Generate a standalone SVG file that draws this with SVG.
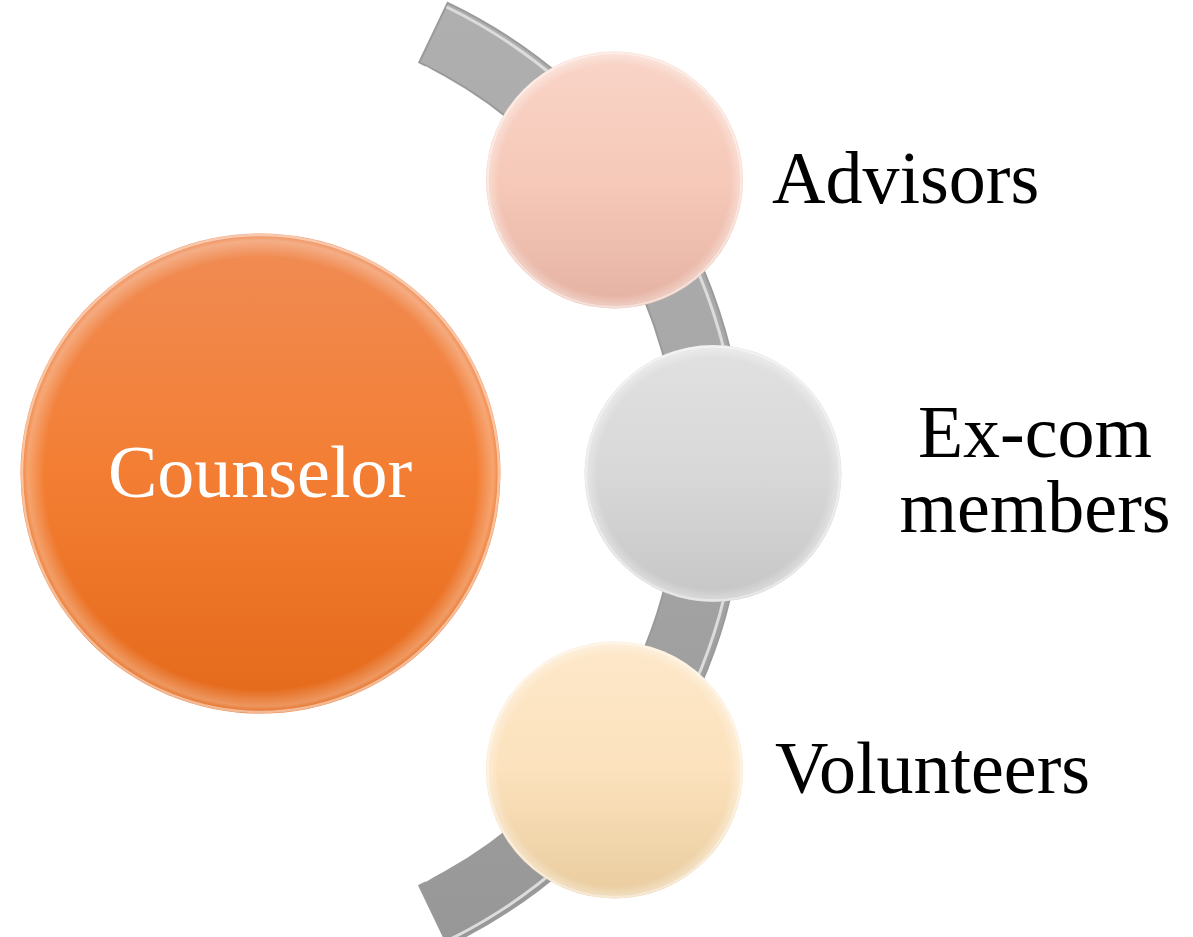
<svg xmlns="http://www.w3.org/2000/svg" width="1193" height="937" viewBox="0 0 1193 937">
<defs>
<style>
.lbl{font-family:"Liberation Serif","Times New Roman",serif;font-size:74px;fill:#000}
.lblw{font-family:"Liberation Serif","Times New Roman",serif;font-size:74px;fill:#fff}
.rim{fill:none;stroke:#fff;stroke-opacity:0.5;stroke-width:2.5}
</style>
<linearGradient id="gOrange" x1="0" y1="0" x2="0" y2="1">
<stop offset="0" stop-color="#f08c55"/><stop offset="0.5" stop-color="#f37e33"/><stop offset="1" stop-color="#e4691a"/>
</linearGradient>
<linearGradient id="gPink" x1="0" y1="0" x2="0" y2="1">
<stop offset="0" stop-color="#f9d5c8"/><stop offset="0.5" stop-color="#f6c9b9"/><stop offset="1" stop-color="#e5b2a2"/>
</linearGradient>
<linearGradient id="gGray" x1="0" y1="0" x2="0" y2="1">
<stop offset="0" stop-color="#e1e1e1"/><stop offset="0.5" stop-color="#d8d8d8"/><stop offset="1" stop-color="#c6c6c6"/>
</linearGradient>
<linearGradient id="gCream" x1="0" y1="0" x2="0" y2="1">
<stop offset="0" stop-color="#fde8ca"/><stop offset="0.5" stop-color="#fce2bd"/><stop offset="1" stop-color="#e9cc9e"/>
</linearGradient>
<linearGradient id="gBand" x1="0" y1="0" x2="0" y2="1">
<stop offset="0" stop-color="#afafaf"/><stop offset="0.5" stop-color="#a6a6a6"/><stop offset="1" stop-color="#979797"/>
</linearGradient>
<radialGradient id="gShine" cx="0.5" cy="0.5" r="0.5">
<stop offset="0.9" stop-color="#fff" stop-opacity="0"/><stop offset="0.97" stop-color="#fff" stop-opacity="0.3"/><stop offset="1" stop-color="#fff" stop-opacity="0"/>
</radialGradient>
</defs>
<rect width="1193" height="937" fill="#fff"/>
<g id="connectors">
<path d="M 447.7 2.8 A 522 522 0 0 1 447.7 945.2 L 419.3 885.6 A 456 456 0 0 0 419.3 62.4 Z" fill="url(#gBand)" stroke="#9a9a9a" stroke-width="2"/>
<path d="M 423.5 70 A 465 465 0 0 1 423.5 878" fill="none" stroke="#ffffff" stroke-width="9"/>
<path d="M 446.5 7 A 519 519 0 0 1 446.5 941" fill="none" stroke="#dcdcdc" stroke-width="3"/>
</g>
<g id="node-counselor">
<circle cx="260.5" cy="473.5" r="240" fill="url(#gOrange)"/>
<circle cx="260.5" cy="473.5" r="240" fill="url(#gShine)"/>
<circle cx="260.5" cy="473.5" r="238.5" class="rim"/>
<text x="260" y="497" text-anchor="middle" class="lblw">Counselor</text>
</g>
<g id="node-advisors">
<circle cx="614.5" cy="180" r="128.5" fill="url(#gPink)"/>
<circle cx="614.5" cy="180" r="128.5" fill="url(#gShine)"/>
<circle cx="614.5" cy="180" r="127" class="rim"/>
<text x="772" y="203" class="lbl">Advisors</text>
</g>
<g id="node-excom">
<circle cx="713" cy="473.5" r="128.5" fill="url(#gGray)"/>
<circle cx="713" cy="473.5" r="128.5" fill="url(#gShine)"/>
<circle cx="713" cy="473.5" r="127" class="rim"/>
<text x="1035" y="457" text-anchor="middle" class="lbl">Ex-com</text>
<text x="1035" y="532" text-anchor="middle" class="lbl">members</text>
</g>
<g id="node-volunteers">
<circle cx="614.5" cy="770" r="128.5" fill="url(#gCream)"/>
<circle cx="614.5" cy="770" r="128.5" fill="url(#gShine)"/>
<circle cx="614.5" cy="770" r="127" class="rim"/>
<text x="775" y="793" class="lbl">Volunteers</text>
</g>
</svg>
